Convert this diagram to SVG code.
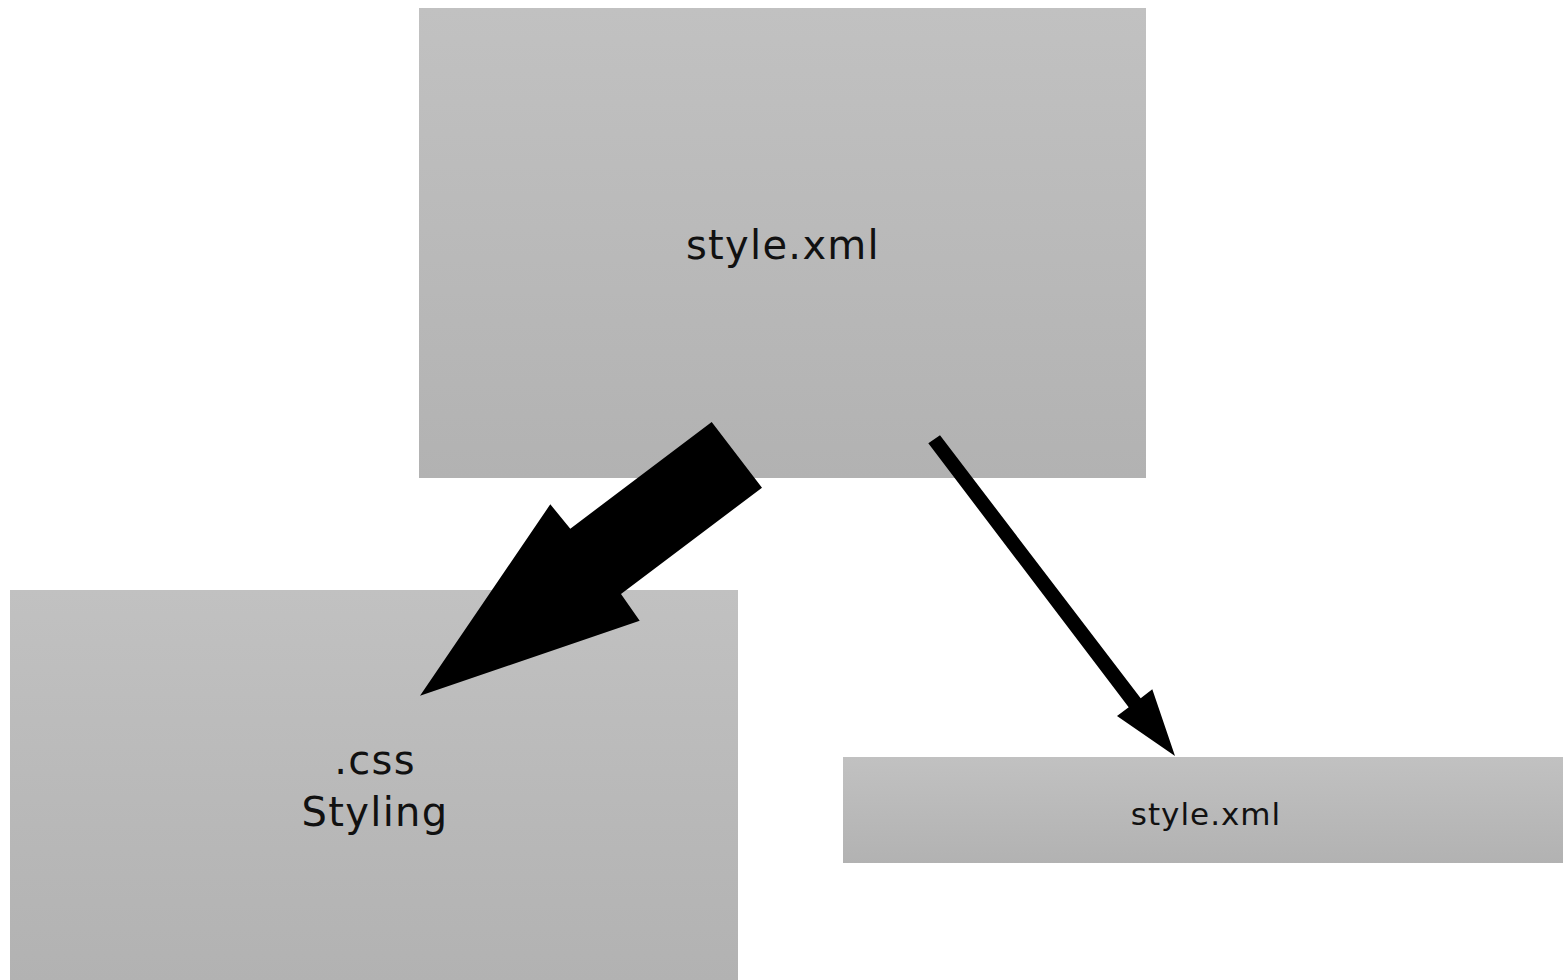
<svg xmlns="http://www.w3.org/2000/svg" width="1563" height="980" viewBox="0 0 1563 980">
<defs>
<linearGradient id="g" x1="0" y1="0" x2="0" y2="1">
<stop offset="0" stop-color="#c1c1c1"/>
<stop offset="1" stop-color="#b2b2b2"/>
</linearGradient>
<style>
.box{fill:url(#g)}
.t{font-family:"DejaVu Sans",sans-serif;fill:#111;text-anchor:middle}
.big{font-size:40px;letter-spacing:1.3px}
.small{font-size:31px;letter-spacing:1px}
</style>
</defs>
<rect width="1563" height="980" fill="#fff"/>
<g id="node-style-top">
<rect class="box" x="419" y="8" width="727" height="470"/>
<text class="t big" x="783" y="259">style.xml</text>
</g>
<g id="node-css">
<rect class="box" x="10" y="590" width="728" height="390"/>
<text class="t big" x="375" y="774">.css</text>
<text class="t big" x="375" y="826">Styling</text>
</g>
<g id="node-style-right">
<rect class="box" x="843" y="757" width="720" height="106"/>
<text class="t small" x="1206" y="825">style.xml</text>
</g>
<g id="connectors">
<polygon points="711.7,422 762,487.7 621,594 639.7,620.7 420,695.7 550.3,504.3 570.3,528.7" fill="#000"/>
<polygon points="928.3,443.3 940,435.3 1140.7,698.3 1152.3,689.3 1175,756 1117,716 1128.7,707.3" fill="#000"/>
</g>
</svg>
